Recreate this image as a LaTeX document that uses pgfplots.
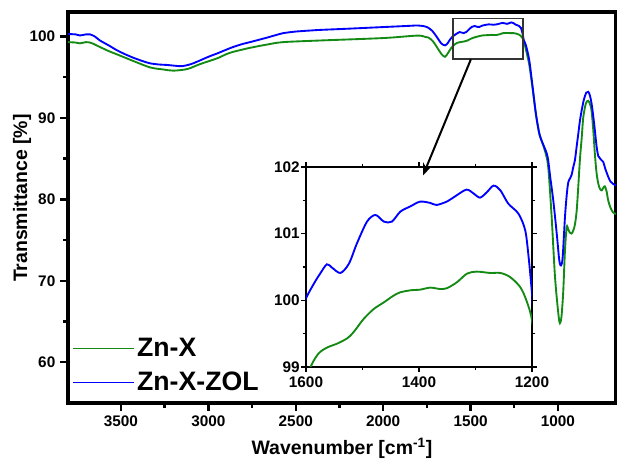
\documentclass[border=0pt]{standalone}
\usepackage{fontspec}
\setmainfont{Liberation Sans}
\usepackage{pgfplots}
\usepackage{pgfplotstable}
\pgfplotsset{compat=1.18}
\usetikzlibrary{arrows.meta}
\definecolor{znx}{HTML}{138A13}
\definecolor{zol}{HTML}{0000FF}

% Zn-X (green)
\pgfplotstableread{
w T
3803 99.3
3760 99.25
3735 99.15
3700 99.3
3670 99.2
3620 98.7
3570 98.2
3523 97.8
3431 97.0
3334 96.2
3260 95.95
3200 95.8
3120 96.0
3048 96.6
2951 97.3
2900 97.8
2859 98.1
2762 98.6
2665 99.0
2573 99.3
2362 99.5
2000 99.8
1807 100.1
1760 99.95
1740 99.85
1715 99.4
1690 98.6
1665 97.8
1646 97.5
1628 98.0
1610 98.6
1592 99.0
1578 99.2
1563 99.29
1545 99.35
1527 99.43
1516 99.52
1498 99.72
1480 99.87
1462 99.97
1445 100.07
1433 100.12
1415 100.15
1398 100.16
1380 100.19
1363 100.17
1351 100.18
1333 100.27
1315 100.4
1298 100.43
1274 100.41
1256 100.41
1239 100.35
1221 100.2
1210 100.0
1200 99.7
1190 99.0
1175 97.6
1164 96.5
1145 93.6
1126 90.4
1107 88.1
1090 87.0
1070 85.6
1055 83.8
1036 77.8
1017 70.5
998 66.0
989 64.8
980 65.6
970 68.6
960 73.7
950 76.6
941 76.3
932 75.9
922 75.8
912 76.2
903 76.9
893 78.6
884 81.5
874 85.0
864 87.6
855 90.1
840 91.8
827 92.1
817 91.7
808 90.9
798 88.5
789 85.6
779 83.2
769 81.9
760 81.3
750 81.1
741 81.4
732 81.6
722 81.0
713 79.9
700 79.0
685 78.4
668 78.2
}\znxdata

% Zn-X-ZOL (blue)
\pgfplotstableread{
w T
3803 100.3
3760 100.25
3735 100.12
3700 100.25
3677 100.25
3650 100.0
3620 99.5
3570 98.9
3523 98.3
3480 97.85
3431 97.4
3380 97.0
3334 96.7
3280 96.55
3237 96.5
3190 96.4
3151 96.35
3100 96.6
3048 97.05
3000 97.5
2951 97.9
2900 98.35
2859 98.7
2800 99.1
2762 99.3
2700 99.65
2665 99.85
2600 100.25
2573 100.4
2500 100.6
2400 100.75
2362 100.8
2200 100.95
2000 101.15
1850 101.3
1807 101.35
1780 101.3
1749 101.15
1720 100.7
1692 99.9
1668 99.15
1646 98.9
1630 99.2
1615 99.7
1600 100.03
1586 100.25
1575 100.4
1563 100.54
1554 100.49
1539 100.41
1524 100.55
1510 100.85
1492 101.18
1477 101.28
1462 101.18
1448 101.18
1433 101.33
1415 101.41
1398 101.48
1380 101.46
1369 101.43
1351 101.48
1336 101.56
1316 101.66
1303 101.6
1292 101.54
1280 101.62
1268 101.72
1256 101.65
1242 101.45
1224 101.3
1212 101.05
1206 100.65
1200 100.1
1195 99.5
1183 98.9
1164 97.05
1145 93.8
1126 90.5
1107 88.1
1090 87.0
1078 86.4
1059 85.2
1044 82.7
1027 79.9
1007 75.8
995 73.0
989 72.1
982 71.9
973 72.9
960 77.8
950 80.5
941 82.1
930 82.6
922 83.0
912 84.0
903 84.8
893 86.5
884 88.0
874 89.7
862 91.2
851 92.3
838 93.1
827 93.2
818 92.8
808 91.8
798 90.2
789 88.5
779 86.5
769 85.3
755 84.9
741 84.6
730 83.8
713 82.8
700 82.2
685 81.9
668 81.7
}\zoldata

\begin{document}
\begin{tikzpicture}
\useasboundingbox (-51pt,-42pt) rectangle (411.75pt,302.25pt);
\begin{axis}[
    name=main,
    at={(0,0)}, anchor=south west,
    scale only axis,
    width=411pt, height=293.25pt,
    x dir=reverse,
    xmin=668, xmax=3803,
    ymin=55, ymax=103,
    xtick={1000,1500,...,3500},
    ytick={60,70,...,100},
    minor x tick num=1,
    minor y tick num=1,
    tick align=outside,
    xtick pos=left, ytick pos=left,
    major tick length=6pt,
    minor tick length=3.5pt,
    tick style={black, line width=1.8pt},
    axis line style={line width=2.6pt},
    scaled ticks=false,
    /pgf/number format/1000 sep={},
    /pgf/number format/assume math mode=true,
    ticklabel style={font=\fontsize{11.5}{13}\selectfont\bfseries},
    xlabel={Wavenumber [cm\textsuperscript{-1}]},
    ylabel={Transmittance [\%]},
    xlabel style={font=\fontsize{14.6}{16}\selectfont\bfseries, at={(axis description cs:0.5,-0.132)}, anchor=base},
    ylabel style={font=\fontsize{14.6}{16}\selectfont\bfseries, at={(axis description cs:-0.0748,0.524)}, anchor=base, rotate=0},
    legend style={at={(0,0.012)}, anchor=south west, draw=none, fill=none,
        font=\fontsize{20}{24}\selectfont\bfseries, row sep=6pt},
    legend cell align=left,
]
\addplot[znx, line width=1.4pt, smooth,
    legend image code/.code={\draw[znx, line width=0.9pt] (0pt,0pt) -- (45.75pt,0pt);}]
    table[x=w, y=T] {\znxdata};
\addplot[zol, line width=1.4pt, smooth,
    legend image code/.code={\draw[zol, line width=0.9pt] (0pt,0pt) -- (45.75pt,0pt);}]
    table[x=w, y=T] {\zoldata};
\legend{Zn-X, Zn-X-ZOL}
\draw[black!80, line width=1.2pt] (axis cs:1600,97.2) rectangle (axis cs:1200,102.2);
\coordinate (arrstart) at (axis cs:1498,97.2);
\coordinate (arrend) at (axis cs:1772,82.94);
\end{axis}

\begin{axis}[
    at={(178.5pt,27pt)}, anchor=south west,
    scale only axis,
    width=169.5pt, height=150pt,
    axis background/.style={fill=white},
    x dir=reverse,
    xmin=1200, xmax=1600,
    ymin=99, ymax=102,
    xtick={1200,1400,1600},
    ytick={99,100,101,102},
    minor x tick num=1,
    minor y tick num=1,
    tick align=outside,
    major tick length=3.5pt,
    minor tick length=2.5pt,
    tick style={black, line width=1pt},
    axis line style={line width=1.5pt},
    scaled ticks=false,
    /pgf/number format/1000 sep={},
    /pgf/number format/assume math mode=true,
    ticklabel style={font=\fontsize{11.5}{13}\selectfont\bfseries},
    yticklabel style={inner xsep=1pt},
]
\addplot[znx, line width=1.4pt, smooth] table[x=w, y=T] {\znxdata};
\addplot[zol, line width=1.4pt, smooth] table[x=w, y=T] {\zoldata};
\end{axis}

\draw[-{Stealth[length=9pt, width=7pt]}, line width=1.5pt] (arrstart) -- (arrend);
\end{tikzpicture}
\end{document}
